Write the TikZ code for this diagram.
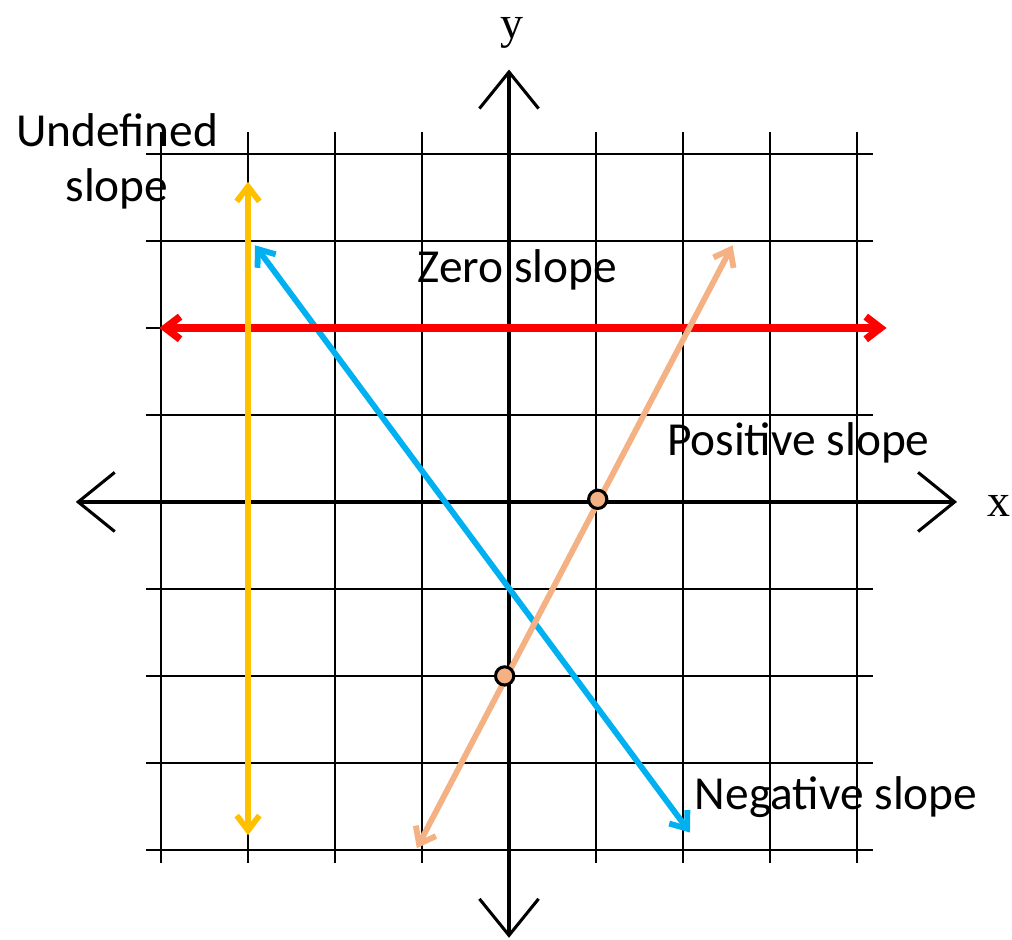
\documentclass[tikz,border=0pt]{standalone}
\usepackage{fontspec}
\setmainfont{Carlito}
\newfontfamily\axisfont{Liberation Serif}
\usetikzlibrary{arrows.meta}

\definecolor{undefcolor}{HTML}{FFC000}
\definecolor{zerocolor}{HTML}{FF0000}
\definecolor{negcolor}{HTML}{00B0F0}
\definecolor{poscolor}{HTML}{F4B183}

\begin{document}
\begin{tikzpicture}[
    >={Straight Barb[length=1.7mm, width=2.6mm]},
    gridline/.style={line width=0.9pt},
    axisline/.style={line width=1.4pt, {Straight Barb[length=4.2mm, width=6.8mm, line width=1pt]}-{Straight Barb[length=4.2mm, width=6.8mm, line width=1pt]}},
    slopeline/.style={<->, line width=1.9pt, line cap=round, line join=round},
    slopelabel/.style={font=\fontsize{15.5}{18}\selectfont, inner sep=0pt},
    axislabel/.style={font=\axisfont\fontsize{15}{18}\selectfont, inner sep=0pt},
    pointdot/.style={fill=poscolor, draw=black, line width=1pt}
]
        % ==== DEFINITIONS ====
        \def\R{0.105} % point radius
        \useasboundingbox (-5.851,-5.034) rectangle (5.782,5.770);

        % ==== GRID ====
        \foreach \k in {-4,...,4} {
            \draw[gridline] (\k,-4.15) -- (\k,4.25);
            \draw[gridline] (-4.17,\k) -- (4.18,\k);
        }

        % ==== AXIS ====
        \coordinate (xleft) at (-4.98,0);
        \coordinate (xright) at (5.15,0);
        \coordinate (ybottom) at (0,-5.01);
        \coordinate (ytop) at (0,4.97);
        \draw[axisline] (xleft) -- (xright);
        \draw[axisline] (ybottom) -- (ytop);
        \node[axislabel, anchor=base] (xlabel) at (5.63,-0.17) {x};
        \node[axislabel, anchor=base] (ylabel) at (0.03,5.33) {y};

        % ==== LINE ENDS ====
        \coordinate (undeftop) at (-3,3.68);
        \coordinate (undefbottom) at (-3,-3.83);
        \coordinate (zeroleft) at (-4.02,2);
        \coordinate (zeroright) at (4.34,2);
        \coordinate (negtop) at (-2.92,2.95);
        \coordinate (negbottom) at (2.08,-3.80);
        \coordinate (postop) at (2.57,2.95);
        \coordinate (posbottom) at (-1.06,-3.98);

        % ==== SLOPE LINES ====
        \draw[slopeline, negcolor] (negtop) -- (negbottom);
        \draw[slopeline, zerocolor, line width=2.4pt] (zeroleft) -- (zeroright);
        \draw[slopeline, undefcolor] (undeftop) -- (undefbottom);
        \draw[slopeline, poscolor] (posbottom) -- (postop);

        % ==== POINTS ON POSITIVE LINE ====
        \filldraw[pointdot] (1.02,0.03) circle (\R);
        \filldraw[pointdot] (-0.05,-2.0) circle (\R);

        % ==== LABELS ====
        \node[slopelabel, align=center, anchor=base] (undeflabel) at (-4.506,3.45) {Undefined\\slope};
        \node[slopelabel, anchor=base west] (zerolabel) at (-1.057,2.517) {Zero slope};
        \node[slopelabel, anchor=base west] (poslabel) at (1.81,0.529) {Positive slope};
        \node[slopelabel, anchor=base west] (neglabel) at (2.13,-3.54) {Negative slope};

    \end{tikzpicture}
\end{document}
